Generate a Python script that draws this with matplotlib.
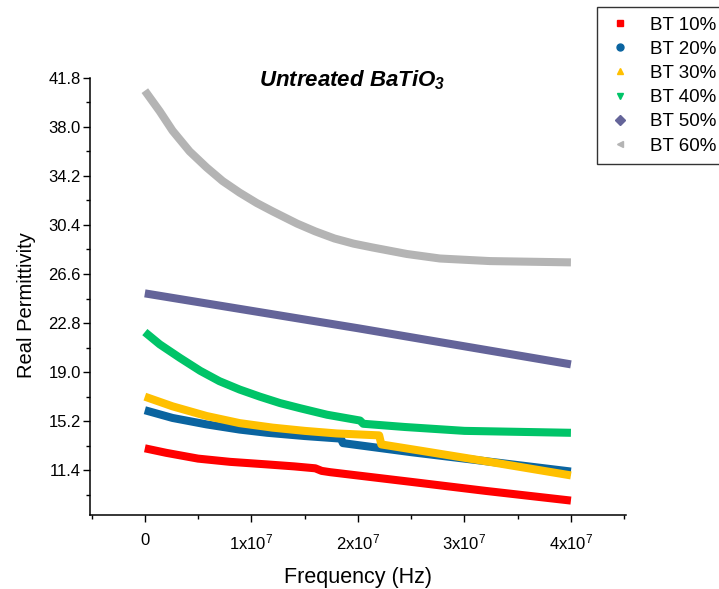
import matplotlib
matplotlib.use('Agg')
import matplotlib.pyplot as plt
from matplotlib.lines import Line2D
from matplotlib.ticker import FixedLocator

plt.rcParams['font.family'] = ['Liberation Sans', 'DejaVu Sans']
plt.rcParams['mathtext.default'] = 'regular'

# Values (frequency in MHz, permittivity)
f_bt10 = [0, 2.0, 5.0, 8.0, 11.5, 14.0, 16.0, 16.6, 17.4, 25.0, 32.0, 40.0]
v_bt10 = [13.1, 12.75, 12.3, 12.05, 11.85, 11.7, 11.55, 11.35, 11.25, 10.5, 9.8, 9.05]

f_bt20 = [0, 2.6, 5.8, 8.9, 11.5, 15.0, 18.4, 18.6, 25.0, 32.0, 40.0]
v_bt20 = [16.05, 15.45, 14.95, 14.55, 14.3, 14.05, 13.85, 13.5, 12.8, 12.1, 11.3]

f_bt30 = [0, 2.6, 5.8, 8.9, 12.0, 15.0, 18.0, 22.0, 22.2, 26.0, 32.0, 40.0]
v_bt30 = [17.1, 16.35, 15.6, 15.05, 14.7, 14.45, 14.25, 14.1, 13.4, 12.9, 12.1, 11.0]

f_bt40 = [0, 1.4, 3.3, 5.2, 7.0, 8.9, 10.8, 12.7, 14.6, 17.1, 20.2, 20.5, 24.4, 30.0, 40.0]
v_bt40 = [22.1, 21.15, 20.1, 19.1, 18.3, 17.65, 17.1, 16.6, 16.2, 15.7, 15.25, 15.0, 14.75, 14.45, 14.3]

f_bt50 = [0, 10.0, 20.0, 30.0, 40.0]
v_bt50 = [25.1, 23.75, 22.4, 21.0, 19.6]

f_bt60 = [0, 1.4, 2.6, 4.2, 5.8, 7.3, 8.9, 10.5, 12.0, 14.3, 16.0, 17.8, 19.6, 21.4, 24.6, 27.7, 32.4, 40.0]
v_bt60 = [40.8, 39.2, 37.7, 36.1, 34.85, 33.8, 32.9, 32.1, 31.45, 30.5, 29.9, 29.35, 28.95, 28.65, 28.15, 27.8, 27.6, 27.5]

labels = ['BT 10%', 'BT 20%', 'BT 30%', 'BT 40%', 'BT 50%', 'BT 60%']
colors = ['#FF0000', '#0A64A0', '#FFC000', '#00C468', '#646499', '#B4B4B4']
markers = ['s', 'o', '^', 'v', 'D', '<']

series = [(f_bt10, v_bt10), (f_bt20, v_bt20), (f_bt30, v_bt30),
          (f_bt40, v_bt40), (f_bt50, v_bt50), (f_bt60, v_bt60)]

fig = plt.figure(figsize=(7.19, 5.89), dpi=100)
ax = fig.add_axes([0.125, 0.126, 0.7455, 0.742])

for (f, v), c in zip(series, colors):
    ax.plot([x * 1e6 for x in f], v, color=c, linewidth=5.8,
            solid_capstyle='butt', solid_joinstyle='round')

ax.set_xlim(-0.516e7, 4.516e7)
ax.set_ylim(7.95, 41.8)

ax.xaxis.set_major_locator(FixedLocator([0, 1e7, 2e7, 3e7, 4e7]))
ax.xaxis.set_minor_locator(FixedLocator([-0.5e7, 0.5e7, 1.5e7, 2.5e7, 3.5e7, 4.5e7]))
ax.set_xticklabels(['0', '1x10$^{7}$', '2x10$^{7}$', '3x10$^{7}$', '4x10$^{7}$'])

yt = [11.4, 15.2, 19.0, 22.8, 26.6, 30.4, 34.2, 38.0, 41.8]
ax.yaxis.set_major_locator(FixedLocator(yt))
ax.yaxis.set_minor_locator(FixedLocator([y - 1.9 for y in yt]))
ax.set_yticklabels([f'{y:.1f}' for y in yt])

ax.tick_params(which='major', direction='out', length=5, width=1, labelsize=12)
ax.tick_params(which='minor', direction='out', length=3, width=1)
ax.tick_params(axis='x', pad=8)
ax.tick_params(axis='y', pad=1.5)

for s in ['top', 'right']:
    ax.spines[s].set_visible(False)
for s in ['left', 'bottom']:
    ax.spines[s].set_linewidth(1.1)

ax.set_xlabel('Frequency (Hz)', fontsize=15.5, labelpad=10)
ax.set_ylabel('Real Permittivity', fontsize=14.5)
ax.yaxis.set_label_coords(-0.10, 0.48)
ax.text(0.489, 0.995, 'Untreated BaTiO$_{3}$', transform=ax.transAxes,
        ha='center', va='center', fontsize=16, fontweight='bold', style='italic')

handles = [Line2D([0], [0], marker=m, color='none', markerfacecolor=c,
                  markeredgecolor=c, markersize=5, label=l)
           for l, c, m in zip(labels, colors, markers)]
leg = fig.legend(handles=handles, loc='upper left',
                 bbox_to_anchor=(597 / 719, 1 - 7 / 589),
                 fontsize=13.5, frameon=True, fancybox=False,
                 labelspacing=0.38, handlelength=1.5, handletextpad=0.8,
                 borderpad=0.5, borderaxespad=0)
leg.get_frame().set_edgecolor('black')
leg.get_frame().set_linewidth(1)

fig.savefig('out.png', dpi=100)
